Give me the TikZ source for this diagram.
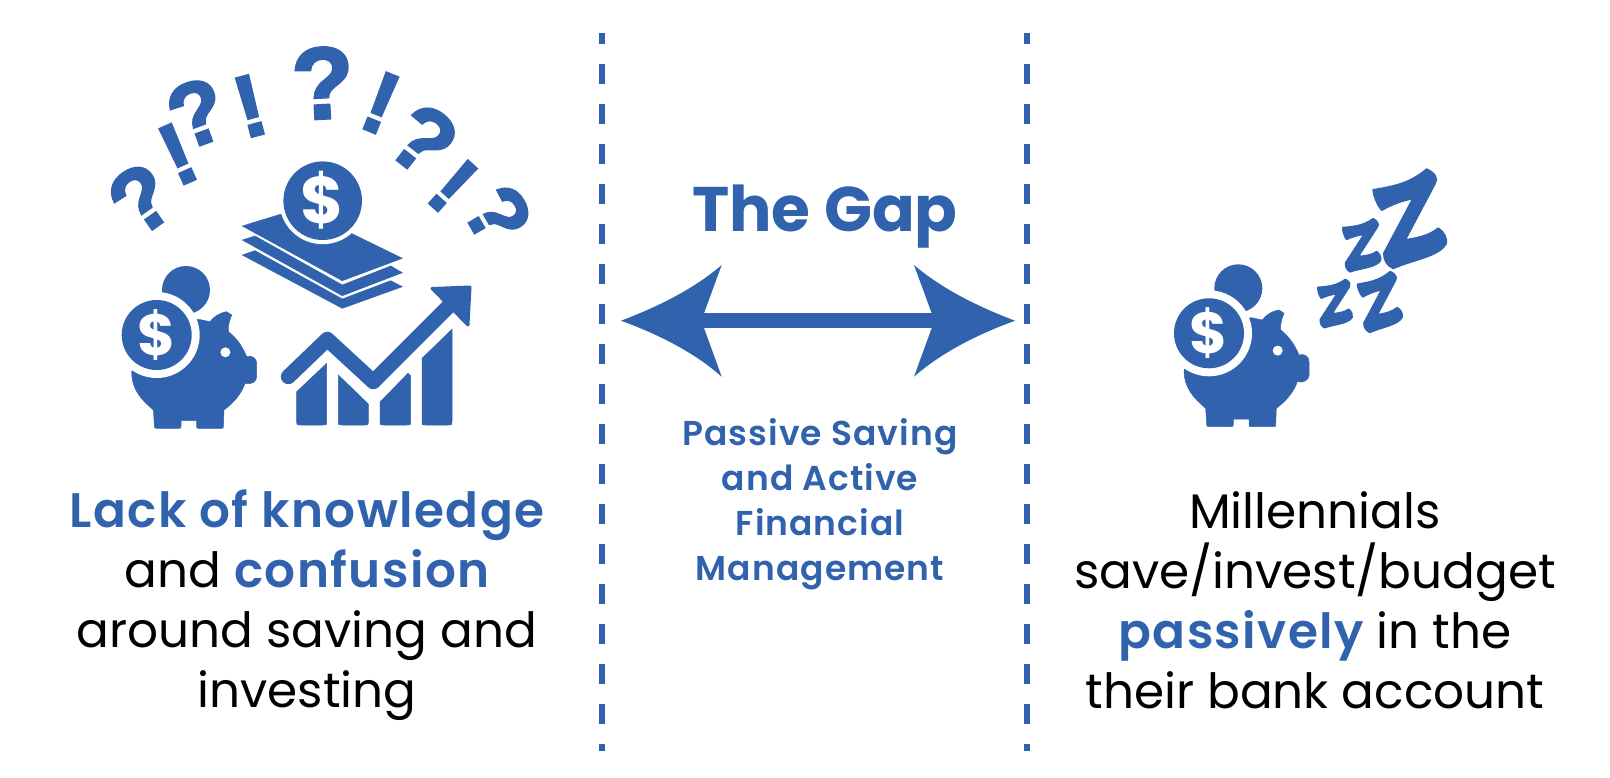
\documentclass[tikz,border=0pt]{standalone}
\usepackage{fontspec}
\usepackage{xcolor}
\setmainfont{Poppins}
\newfontfamily\markfont{Liberation Sans Bold}[FakeBold=2.5]
\newfontfamily\gapfont{Poppins SemiBold}[LetterSpace=3]
\newfontfamily\titlefont{Poppins Bold}
\usetikzlibrary{positioning, calc}
\definecolor{gapblue}{RGB}{49,98,174}
\newcommand{\hl}[1]{{\gapfont\textcolor{gapblue}{#1}}}
\tikzset{
    bodytext/.style={align=center, inner sep=0pt, text=black, font=\fontsize{48.5}{60}\selectfont},
    gaptext/.style={align=center, inner sep=0pt, text=gapblue, font=\gapfont\fontsize{34.5}{45}\selectfont},
    puzzled/.style={inner sep=0pt, text=gapblue, font=\markfont\fontsize{#1}{#1}\selectfont},
    coinsign/.style={inner sep=0pt, text=white, font=\titlefont\fontsize{#1}{#1}\selectfont},
    divider/.style={draw=gapblue, line width=6.5pt, dash pattern=on 20pt off 20pt, dash phase=9pt},
    iconfill/.style={fill=gapblue, draw=gapblue, line width=0.5pt},
    snooze/.pic={
        \path[fill=gapblue, draw=gapblue, line width=2pt, line join=round] (-36.7,-28.3) .. controls (-15,-32) and (0,-35) .. (16.7,-49)
            .. controls (25,-45) and (28,-40) .. (25,-35) -- (-5,21.7)
            .. controls (8,20) and (20,17) .. (28.3,10)
            .. controls (34,14) and (37,20) .. (36,25)
            .. controls (30,38) and (0,42) .. (-16.7,50)
            .. controls (-23,47) and (-26,42) .. (-26,35) -- (3.3,-20)
            .. controls (-8,-18) and (-18,-14) .. (-28.3,-8.3)
            .. controls (-33,-14) and (-36,-22) .. cycle;
    },
    piggy/.pic={
        \fill[gapblue] (29.3,-45) circle (24);
        \path[iconfill] (-25,36.7) .. controls (-25,55) and (-15,65) .. (-3.3,75)
            -- (-2.3,91) .. controls (-2.3,93) .. (0,93.3) -- (22,93.3) .. controls (24,93.3) .. (24.3,91)
            -- (24.3,85.7) -- (40,85.7) -- (40,91) .. controls (40,93.3) .. (42,93.3) -- (64.5,93.3)
            .. controls (66.7,93.3) .. (66.7,91)
            -- (67.3,75) .. controls (78,67) and (85,58) .. (88.3,48.3)
            .. controls (94,50) and (100,47) .. (100,41.7) -- (100,28.3)
            .. controls (100,23) and (95,20) .. (90,21.7)
            .. controls (86,12) and (80,3) .. (71.7,-3.3)
            .. controls (71,-10) and (73,-15) .. (75,-20) -- (70,-23.3)
            .. controls (62,-22) and (57,-18) .. (53.3,-13.3) -- (41.7,-15.7) -- (0,0) -- cycle;
        \fill[white] (0,0) circle (43);
        \fill[gapblue] (0,0) circle (35);
        \fill[white] (68.7,17.3) circle (5);
        \node[coinsign=58] (sign) at (0,0) {\$};
    }
}
\begin{document}
\begin{tikzpicture}[x=1pt, y=-1pt]
    \useasboundingbox (0,0) rectangle (1610,777);

    % dividers
    \coordinate (leftTop) at (602,33);
    \coordinate (leftEnd) at (602,751);
    \coordinate (rightTop) at (1027,33);
    \coordinate (rightEnd) at (1027,751);
    \draw[divider] (leftTop) -- (leftEnd);
    \draw[divider] (rightTop) -- (rightEnd);

    % the gap
    \node[inner sep=0pt, text=gapblue, font=\titlefont\fontsize{63}{63}\selectfont, anchor=base] (gap) at (825,231) {The Gap};
    \node[gaptext] (gapnote) at (820,504) {Passive Saving\\and Active\\Financial\\Management};
    \coordinate (shaftL) at (700,320.7);
    \coordinate (shaftR) at (936,320.7);
    \draw[gapblue, line width=15pt] (shaftL) -- (shaftR);
    \fill[gapblue] (621,320.7) .. controls (660,306) and (695,288) .. (721.7,265) -- (704,313.3)
        -- (704,328) -- (721.7,376.7) .. controls (695,353) and (660,335) .. cycle;
    \fill[gapblue] (1015,320.7) .. controls (976,306) and (941,288) .. (914,265) -- (931.7,313.3)
        -- (931.7,328) -- (914,376.7) .. controls (941,353) and (976,335) .. cycle;

    % question marks
    \node[puzzled=90, rotate=35] (q1) at (141,199) {?};
    \node[puzzled=88, rotate=24] (e1) at (177.7,154) {!};
    \node[puzzled=90, rotate=20] (q2) at (197,113) {?};
    \node[puzzled=88, rotate=15] (e2) at (250,106) {!};
    \node[puzzled=102, rotate=3] (q3) at (323,83) {?};
    \node[puzzled=88, rotate=-22] (e3) at (381,103) {!};
    \node[puzzled=92, rotate=-38] (q4) at (423.3,140) {?};
    \node[puzzled=84, rotate=-42] (e4) at (453,186) {!};
    \node[puzzled=84, rotate=-60] (q5) at (498,215) {?};

    % money stack
    \path[iconfill] (242.3,255) -- (255,250.7) -- (342.3,299) -- (390.7,280.7) -- (402.3,286.7) -- (342.3,308.3) -- cycle;
    \path[iconfill] (242.3,240) -- (255,236) -- (342.3,285) -- (390.7,266) -- (402.3,272.7) -- (342.3,295.7) -- cycle;
    \path[iconfill] (242.3,226) -- (300,208.3) -- (402.3,258.3) -- (342.3,280.7) -- cycle;
    \fill[white] (322.7,200.7) circle (43.5);
    \fill[gapblue] (322.7,200.7) circle (39.3);
    \node[coinsign=66] (stacksign) at (322.7,200.7) {\$};

    % chart
    \path[iconfill] (296.7,391.7) -- (326.7,363.3) -- (326.7,421) .. controls (326.7,425) .. (322.7,425) -- (300.7,425) .. controls (296.7,425) .. (296.7,421) -- cycle;
    \path[iconfill] (338.3,375) -- (368.3,404) -- (368.3,421) .. controls (368.3,425) .. (364.3,425) -- (342.3,425) .. controls (338.3,425) .. (338.3,421) -- cycle;
    \path[iconfill] (380,402) -- (408,373.3) -- (410.7,376) -- (410.7,421) .. controls (410.7,425) .. (406.7,425) -- (384,425) .. controls (380,425) .. (380,421) -- cycle;
    \path[iconfill] (422,358.3) -- (452,329.3) -- (452,421) .. controls (452,425) .. (448,425) -- (426,425) .. controls (422,425) .. (422,421) -- cycle;
    \coordinate (trendStart) at (288.3,376.7);
    \coordinate (trendPeak) at (327.3,339.3);
    \coordinate (trendLow) at (373.3,381.7);
    \coordinate (trendEnd) at (450,305);
    \draw[gapblue, line width=15pt, line cap=round, line join=round] (trendStart) -- (trendPeak) -- (trendLow) -- (trendEnd);
    \fill[gapblue, draw=gapblue, line width=3pt, line join=round] (470,287) -- (432,288.5) -- (468,325) -- cycle;

    % piggies
    \pic (pigL) at (156.7,335) {piggy};
    \pic (pigR) at (1209,333.3) {piggy};

    % snoring
    \pic (zBig) at (1410,218.3) {snooze};
    \pic[scale=0.55, rotate=-5] (zTop) at (1361.7,245) {snooze};
    \pic[scale=0.5, rotate=-5] (zLow) at (1335,303.3) {snooze};
    \pic[scale=0.61] (zMid) at (1380,301.7) {snooze};

    % captions
    \node[bodytext] (lack) at (307,605) {\hl{Lack of knowledge}\\and \hl{confusion}\\around saving and\\investing};
    \node[bodytext] (millennials) at (1315,600) {Millennials\\save/invest/budget\\\hl{passively} in the\\their bank account};
\end{tikzpicture}
\end{document}
